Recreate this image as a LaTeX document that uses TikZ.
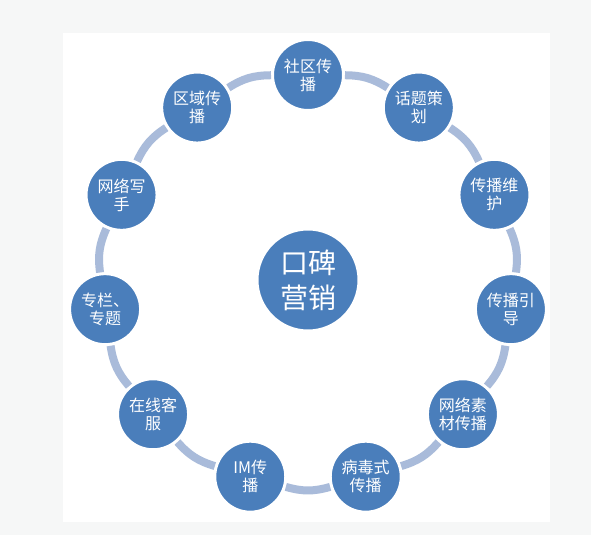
\documentclass[tikz,border=0pt]{standalone}
\usepackage{fontspec}
\newfontfamily\cjk{Noto Sans CJK SC}

\definecolor{spotblue}{HTML}{4A7EBB}
\definecolor{ringblue}{HTML}{A9BBDA}
\definecolor{pagegray}{HTML}{F6F7F7}

\begin{document}
\begin{tikzpicture}[x=1pt, y=1pt,
    spot/.style={circle, fill=spotblue, draw=white, line width=3pt,
      minimum size=71pt, inner sep=0pt, align=center, text=white,
      font=\cjk\fontsize{16}{18}\selectfont},
    hub/.style={spot, minimum size=102pt, font=\cjk\fontsize{28}{35}\selectfont},
    ring/.style={draw=ringblue, line width=8pt}]
  \fill[pagegray] (-308,-255) rectangle (283,280);
  \fill[white] (-245,-242) rectangle (242,247);

  \node[hub] (wom) at (0,0) {口碑\\营销};

  \node[spot] (sq)   at (90:205)      {社区传\\播};
  \node[spot] (ht)   at (57.27:205)   {话题策\\划};
  \node[spot] (wh)   at (24.55:205)   {传播维\\护};
  \node[spot] (yd)   at (-8.18:205)   {传播引\\导};
  \node[spot] (sc)   at (-40.91:205)  {网络素\\材传播};
  \node[spot] (bd)   at (-73.64:205)  {病毒式\\传播};
  \node[spot] (im)   at (-106.36:205) {IM传\\播};
  \node[spot] (kf)   at (-139.09:205) {在线客\\服};
  \node[spot] (zl)   at (-171.82:205) {专栏、\\专题};
  \node[spot] (xs)   at (155.45:205)  {网络写\\手};
  \node[spot] (qy)   at (122.73:205)  {区域传\\播};

  \draw[ring] (sq) to[bend left=16] (ht);
  \draw[ring] (ht) to[bend left=16] (wh);
  \draw[ring] (wh) to[bend left=16] (yd);
  \draw[ring] (yd) to[bend left=16] (sc);
  \draw[ring] (sc) to[bend left=16] (bd);
  \draw[ring] (bd) to[bend left=16] (im);
  \draw[ring] (im) to[bend left=16] (kf);
  \draw[ring] (kf) to[bend left=16] (zl);
  \draw[ring] (zl) to[bend left=16] (xs);
  \draw[ring] (xs) to[bend left=16] (qy);
  \draw[ring] (qy) to[bend left=16] (sq);
\end{tikzpicture}
\end{document}
